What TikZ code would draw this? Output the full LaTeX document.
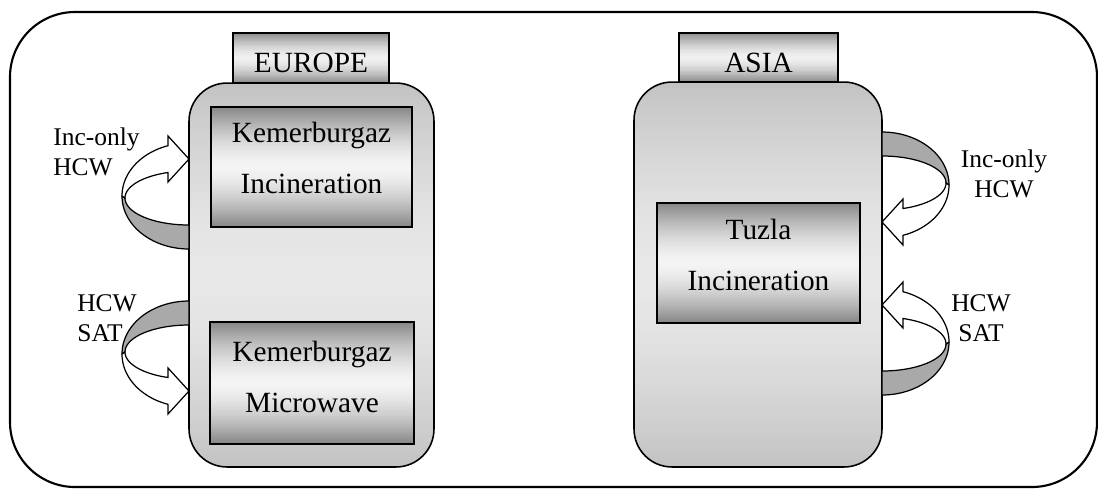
\documentclass[tikz,border=0pt]{standalone}
\usepackage{fontspec}
\setmainfont{Liberation Serif}
\definecolor{ribbongray}{HTML}{A9A9A9}
\definecolor{mainedge}{HTML}{C2C2C2}
\definecolor{mainmid}{HTML}{E8E8E8}
\definecolor{innerdark}{HTML}{858585}
\definecolor{innerlight}{HTML}{F4F4F4}
\definecolor{tabdark}{HTML}{8A8A8A}
\definecolor{tablight}{HTML}{F0F0F0}
% vertical gradient made of strips: #1 x1, #2 y1, #3 x2, #4 y2, #5 top, #6 middle, #7 bottom
\newcommand\vgradient[7]{%
  \foreach \k in {0,...,59}{%
    \pgfmathsetmacro\ya{#2+(#4-#2)/60*\k}%
    \pgfmathsetmacro\yb{min(#2+(#4-#2)/60*(\k+1.4),#4)}%
    \pgfmathsetmacro\fr{(\k+0.5)/60}%
    \pgfmathsetmacro\pc{100*(1-abs(2*\fr-1)^1.6)}%
    \ifdim\fr pt<0.5pt \colorlet{gc}{#6!\pc!#5}\else\colorlet{gc}{#6!\pc!#7}\fi
    \fill[gc] (#1,\ya) rectangle (#3,\yb);
  }}
% #1 box edge x, #2 horizontal direction, #3 centre y, #4 side of the back band (+1 below, -1 above)
\newcommand\ribbonarrow[4]{%
  \filldraw[ribbonback] plot[domain=0:90,samples=40,variable=\t]
      ({#1+#2*67*cos(\t)},{#3+#4*53*sin(\t)})
    -- plot[domain=90:0,samples=40,variable=\t]
      ({#1+#2*64*cos(\t)},{#3+2*#4+#4*27*sin(\t)}) -- cycle;
  \filldraw[ribbonfront] plot[domain=0:71.75,samples=40,variable=\t]
      ({#1+#2*67*cos(\t)},{#3-#4*53*sin(\t)})
    -- ({#1+#2*21},{#3-#4*37-#4*23})
    -- (#1,{#3-#4*37})
    -- ({#1+#2*21},{#3-#4*37+#4*23})
    -- plot[domain=70.85:0,samples=40,variable=\t]
      ({#1+#2*64*cos(\t)},{#3+2*#4-#4*27*sin(\t)}) -- cycle;
}
\begin{document}
\begin{tikzpicture}[x=0.02cm,y=-0.02cm,
  frame/.style={draw=black,line width=1.2pt,rounded corners=1.3cm},
  mainbox/.style={draw=black,line width=0.9pt,rounded corners=0.76cm},
  tabbox/.style={draw=black,line width=0.9pt},
  innerbox/.style={draw=black,line width=0.9pt},
  boxtext/.style={inner sep=0pt,align=center,font=\fontsize{16.7}{28.9}\selectfont},
  labeltext/.style={inner sep=0pt,font=\fontsize{14.5}{17}\selectfont},
  ribbonback/.style={fill=ribbongray,draw=black,line width=0.7pt,line join=round},
  ribbonfront/.style={fill=white,draw=black,line width=0.7pt,line join=miter}]
\useasboundingbox (0,0) rectangle (1098,488);
\fill[white] (0,0) rectangle (1098,488);
\draw[frame] (10,12) rectangle (1097,487);

% Europe
\vgradient{233}{33}{389}{83}{tabdark}{tablight}{tabdark}
\node[tabbox,minimum width=3.12cm,minimum height=1cm] (eutab) at (311,58) {};
\node[boxtext,anchor=base] (eutabtxt) at (311,72) {EUROPE};
\begin{scope}
  \clip[rounded corners=0.76cm] (189,83) rectangle (434,467);
  \vgradient{189}{83}{434}{467}{mainedge}{mainmid}{mainedge}
\end{scope}
\node[mainbox,minimum width=4.9cm,minimum height=7.68cm] (eu) at (311.5,275) {};
\vgradient{211}{107}{412}{227}{innerdark}{innerlight}{innerdark}
\node[innerbox,minimum width=4.02cm,minimum height=2.4cm] (kinc) at (311.5,167) {};
\node[boxtext,anchor=north] (kinctxt) at (kinc.center |- 0,122) {Kemerburgaz\\Incineration};
\vgradient{210}{322}{414}{444}{innerdark}{innerlight}{innerdark}
\node[innerbox,minimum width=4.08cm,minimum height=2.44cm] (kmw) at (312,383) {};
\node[boxtext,anchor=north] (kmwtxt) at (kmw.center |- 0,341) {Kemerburgaz\\Microwave};

% Asia
\vgradient{679}{33}{838}{82}{tabdark}{tablight}{tabdark}
\node[tabbox,minimum width=3.18cm,minimum height=0.98cm] (astab) at (758.5,57.5) {};
\node[boxtext,anchor=base] (astabtxt) at (758.5,72) {ASIA};
\begin{scope}
  \clip[rounded corners=0.76cm] (634,82) rectangle (882,467);
  \vgradient{634}{82}{882}{467}{mainedge}{mainmid}{mainedge}
\end{scope}
\node[mainbox,minimum width=4.96cm,minimum height=7.7cm] (as) at (758,274.5) {};
\vgradient{657}{203}{860}{323}{innerdark}{innerlight}{innerdark}
\node[innerbox,minimum width=4.06cm,minimum height=2.4cm] (tinc) at (758.5,263) {};
\node[boxtext,anchor=north] (tinctxt) at (tinc.center |- 0,219) {Tuzla\\Incineration};

% ribbon arrows
\ribbonarrow{189}{(-1)}{196}{1}
\ribbonarrow{189}{(-1)}{354}{(-1)}
\ribbonarrow{882}{1}{185}{(-1)}
\ribbonarrow{882}{1}{342}{1}

% labels
\node[labeltext,align=left,anchor=north west] (eulab1) at (53,127.5) {Inc-only\\HCW};
\node[labeltext,align=left,anchor=north west] (eulab2) at (77,294) {HCW\\SAT};
\node[labeltext,align=center,anchor=north] (aslab1) at (1004,149.5) {Inc-only\\HCW};
\node[labeltext,align=center,anchor=north] (aslab2) at (981,294) {HCW\\SAT};
\end{tikzpicture}
\end{document}
